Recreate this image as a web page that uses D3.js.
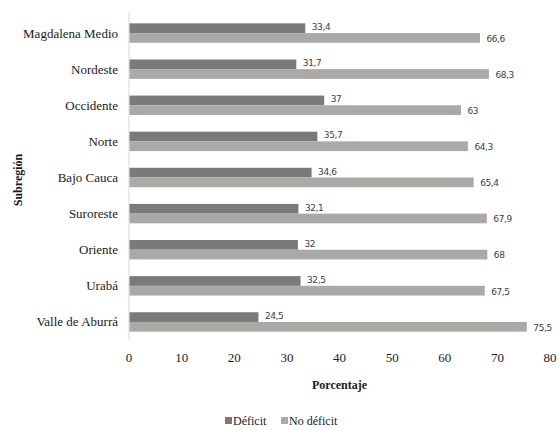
<!DOCTYPE html>
<html>
<head>
<meta charset="utf-8">
<script src="https://d3js.org/d3.v7.min.js"></script>
</head>
<body style="margin:0">
<script>
var categories = ["Magdalena Medio", "Nordeste", "Occidente", "Norte", "Bajo Cauca",
                  "Suroreste", "Oriente", "Urabá", "Valle de Aburrá"];
var deficit = [33.4, 31.7, 37, 35.7, 34.6, 32.1, 32, 32.5, 24.5];
var noDeficit = [66.6, 68.3, 63, 64.3, 65.4, 67.9, 68, 67.5, 75.5];
var seriesNames = ["Déficit", "No déficit"];
var xTicks = [0, 10, 20, 30, 40, 50, 60, 70, 80];

var colors = ["#7a7a7a", "#aba8a8"];
var serif = "Liberation Serif";
var sans = "DejaVu Sans";
var width = 559, height = 430;

var svg = d3.select("body").append("svg")
    .attr("width", width)
    .attr("height", height);

var x = d3.scaleLinear().domain([0, 80]).range([129, 550]);
var y = d3.scaleBand().domain(categories).range([15, 340]);
var inner = d3.scaleBand().domain([0, 1]).range([0, y.bandwidth()]).paddingOuter(0.86);

var series = [deficit, noDeficit];

// sets the font both as attribute and as important inline style
function font(sel, family) {
    sel.attr("font-family", family).style("font-family", family, "important");
}

// y axis line
svg.append("line")
    .attr("x1", x(0)).attr("x2", x(0))
    .attr("y1", 12).attr("y2", 340)
    .attr("stroke", "#d9d9d9").attr("stroke-width", 1);

series.forEach(function(vals, s) {
    svg.selectAll(".bar" + s)
        .data(vals)
        .enter().append("rect")
        .attr("x", x(0) + 0.5)
        .attr("y", function(d, i) { return y(categories[i]) + inner(s); })
        .attr("width", function(d) { return x(d) - x(0); })
        .attr("height", inner.bandwidth())
        .attr("fill", colors[s]);

    svg.selectAll(".val" + s)
        .data(vals)
        .enter().append("text")
        .attr("x", function(d) { return x(d) + 7; })
        .attr("y", function(d, i) { return y(categories[i]) + inner(s) + inner.bandwidth() / 2 + (s === 0 ? -1 : 1); })
        .attr("dy", "0.32em")
        .call(font, sans)
        .attr("font-size", 9)
        .attr("letter-spacing", "-0.4")
        .attr("fill", "#404040")
        .text(function(d) { return String(d).replace(".", ","); });
});

// category labels
svg.selectAll(".cat")
    .data(categories)
    .enter().append("text")
    .attr("x", 118)
    .attr("y", function(d) { return y(d) + y.bandwidth() / 2; })
    .attr("dy", "0.35em")
    .attr("text-anchor", "end")
    .call(font, serif)
    .attr("font-size", 13)
    .attr("fill", "#1a1a1a")
    .text(function(d) { return d; });

// x ticks
svg.selectAll(".tick")
    .data(xTicks)
    .enter().append("text")
    .attr("x", function(d) { return x(d); })
    .attr("y", 357)
    .attr("dy", "0.35em")
    .attr("text-anchor", "middle")
    .call(font, serif)
    .attr("font-size", 13)
    .attr("fill", "#1a1a1a")
    .text(function(d) { return d; });

svg.append("text")
    .attr("x", x(40))
    .attr("y", 385)
    .attr("dy", "0.35em")
    .attr("text-anchor", "middle")
    .call(font, serif)
    .attr("font-size", 12)
    .attr("font-weight", "bold")
    .attr("fill", "#1a1a1a")
    .text("Porcentaje");

svg.append("text")
    .attr("transform", "translate(18,180) rotate(-90)")
    .attr("dy", "0.35em")
    .attr("text-anchor", "middle")
    .call(font, serif)
    .attr("font-size", 12)
    .attr("font-weight", "bold")
    .attr("fill", "#1a1a1a")
    .text("Subregión");

// legend
var legendX = [225, 281];
seriesNames.forEach(function(name, s) {
    svg.append("rect")
        .attr("x", legendX[s]).attr("y", 417)
        .attr("width", 7).attr("height", 7)
        .attr("fill", colors[s]);
    svg.append("text")
        .attr("x", legendX[s] + 8)
        .attr("y", 421)
        .attr("dy", "0.35em")
        .call(font, serif)
        .attr("font-size", 12)
        .attr("fill", "#1a1a1a")
        .text(name);
});
</script>
</body>
</html>
